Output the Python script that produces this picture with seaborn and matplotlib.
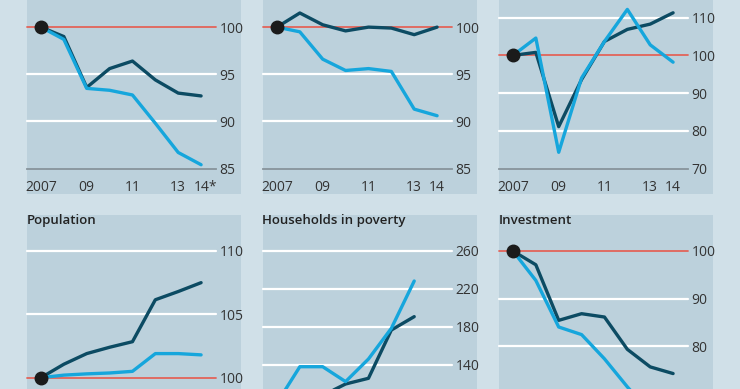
import numpy as np
import pandas as pd
import matplotlib
matplotlib.use("Agg")
import matplotlib.pyplot as plt
import matplotlib.transforms as mtransforms
from matplotlib.patches import Rectangle
import seaborn as sns

# index, 2007 = 100
years = [2007, 2008, 2009, 2010, 2011, 2012, 2013, 2014]

p1_dark = [100, 99.0, 93.6, 95.6, 96.4, 94.4, 93.0, 92.7]
p1_light = [100, 98.7, 93.5, 93.3, 92.8, 89.8, 86.7, 85.4]
p2_dark = [100, 101.5, 100.25, 99.6, 100.0, 99.9, 99.2, 100.0]
p2_light = [100, 99.5, 96.6, 95.4, 95.6, 95.3, 91.3, 90.6]
p3_dark = [100, 100.8, 81.1, 93.6, 103.7, 106.9, 108.3, 111.3]
p3_light = [100, 104.6, 74.3, 94.0, 103.7, 112.2, 102.8, 98.2]
pop_dark = [100, 101.06, 101.9, 102.4, 102.84, 106.15, 106.8, 107.5]
pop_light = [100, 100.2, 100.3, 100.37, 100.5, 101.9, 101.9, 101.8]
pov_dark = [100, 104, 108, 120, 126, 176.8, 190.9]      # to 2013
pov_light = [100, 138.2, 138.2, 122.5, 146.3, 178.6, 228.4]
inv_dark = [100, 97.1, 85.4, 86.8, 86.1, 79.3, 75.6, 74.2]
inv_light = [100, 93.8, 84.0, 82.4, 77.3, 71.4, 66.0, 63.0]

titles = ["", "", "", "Population", "Households in poverty", "Investment"]
yticks = [[85, 90, 95, 100, 105], [85, 90, 95, 100, 105], [70, 80, 90, 100, 110, 120],
          [95, 100, 105, 110], [60, 100, 140, 180, 220, 260], [60, 70, 80, 90, 100]]
xlabels = [["2007", "09", "11", "13", "14*"], ["2007", "09", "11", "13", "14"],
           ["2007", "09", "11", "13", "14"]]
major_years = [2007, 2009, 2011, 2013, 2014]
minor_years = [2008, 2010, 2012]

FIG_BG = "#d0e0e8"
PANEL_BG = "#bcd1dc"
DARK = "#0c4b63"
LIGHT = "#16a6dc"
RED = "#e2645a"
AXIS = "#87949b"

sns.set_style("white", rc={"axes.facecolor": "none", "figure.facecolor": FIG_BG})
plt.rcParams["font.family"] = ["Open Sans", "DejaVu Sans"]

W, H = 740, 389
fig = plt.figure(figsize=(W / 100, H / 100), dpi=100)

lefts = [27, 263, 499]
rows = [(-20, 168.5), (251, 441)]   # top and bottom pixel of each axes row
bg_rows = [(-60, 194), (215, 480)]
ax_w = 188.5
bg_w = 213.5

panels = [(p1_dark, p1_light), (p2_dark, p2_light), (p3_dark, p3_light),
          (pop_dark, pop_light), (pov_dark, pov_light), (inv_dark, inv_light)]

for i, (dark, light) in enumerate(panels):
    r, c = divmod(i, 3)
    top, bot = rows[r]
    bt, bb = bg_rows[r]
    left = lefts[c]
    fig.patches.append(Rectangle((left / W, 1 - bb / H), bg_w / W, (bb - bt) / H,
                                 transform=fig.transFigure, facecolor=PANEL_BG,
                                 edgecolor="none", zorder=-5))
    ax = fig.add_axes([left / W, 1 - bot / H, ax_w / W, (bot - top) / H])

    df = pd.concat([
        pd.DataFrame({"year": years[:len(dark)], "value": dark, "series": "dark"}),
        pd.DataFrame({"year": years[:len(light)], "value": light, "series": "light"}),
    ])
    sns.lineplot(data=df, x="year", y="value", hue="series", hue_order=["dark", "light"],
                 palette={"dark": DARK, "light": LIGHT}, linewidth=2.4, legend=False,
                 ax=ax, zorder=4)
    ax.plot(years[0], dark[0], "o", color="#1b1b1b", markersize=9, zorder=6, clip_on=False)

    yt = yticks[i]
    for v in yt[1:]:
        if v != 100:
            ax.axhline(v, color="white", linewidth=1.6, zorder=1, clip_on=False)
    ax.axhline(100, color=RED, linewidth=1.3, zorder=2, clip_on=False)

    ax.set_xlim(2006.39, 2014.63)
    ax.set_ylim(yt[0], yt[-1])
    ax.set_xlabel("")
    ax.set_ylabel("")
    for s in ["top", "left", "right"]:
        ax.spines[s].set_visible(False)
    ax.spines["bottom"].set_color(AXIS)
    ax.spines["bottom"].set_linewidth(1.3)

    ax.yaxis.tick_right()
    ax.set_yticks(yt[:-1] if r == 0 else yt)
    ax.set_yticklabels([str(v) for v in (yt[:-1] if r == 0 else yt)])
    ax.tick_params(axis="y", length=0, pad=3, labelsize=10, labelcolor="#333333")

    ax.set_xticks(major_years)
    ax.set_xticks(minor_years, minor=True)
    ax.tick_params(axis="x", which="major", direction="in", length=4.5, width=1,
                   color=AXIS, pad=8, labelsize=10, labelcolor="#333333")
    ax.tick_params(axis="x", which="minor", direction="in", length=3, width=1, color=AXIS)
    if r == 0:
        ax.set_xticklabels(xlabels[c])
        if xlabels[c][-1].endswith("*"):
            # centre the digits, not the asterisk, on the tick
            lab = ax.get_xticklabels()[-1]
            lab.set_transform(lab.get_transform() +
                              mtransforms.ScaledTranslation(3.5 / 72, 0, fig.dpi_scale_trans))
    else:
        ax.set_xticklabels([])

    if titles[i]:
        fig.text(left / W - 0.001, 1 - 221 / H, titles[i], ha="left", va="center",
                 fontsize=9.5, color="#222222", fontweight="semibold")

fig.savefig("out.png", dpi=100, facecolor=FIG_BG)
